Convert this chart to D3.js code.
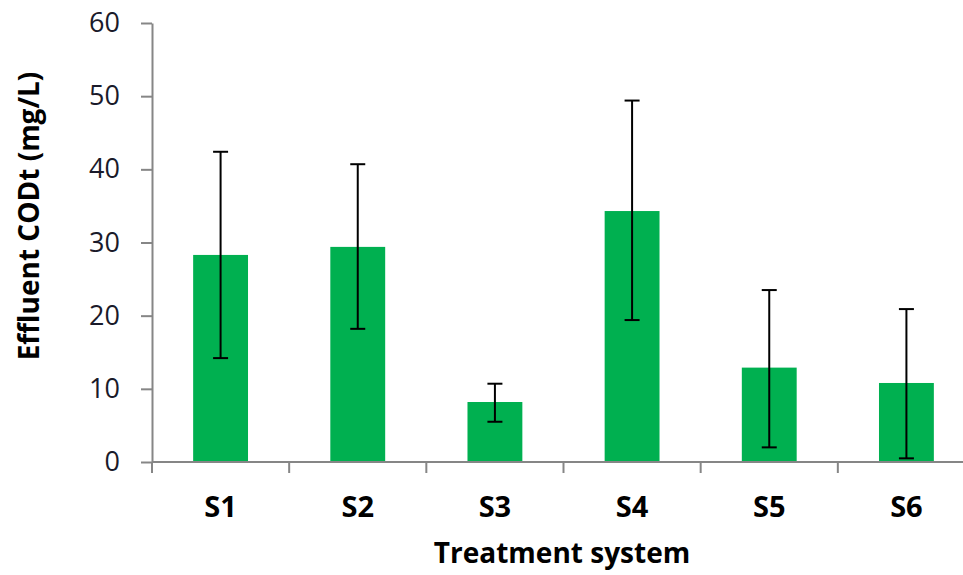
<!DOCTYPE html>
<html lang="en">
<head>
    <meta charset="UTF-8">
    <title>Effluent CODt</title>
    <script src="https://d3js.org/d3.v7.min.js"></script>
    <style>
        body { margin: 0; background: #fff; }
        .tick text { font-family: "Open Sans", sans-serif; fill: #1a1a2a; }
        .axis path, .axis line { stroke: #868686; stroke-width: 2px; }
        .bar { fill: #00b050; }
        .err { stroke: #000; stroke-width: 2px; fill: none; }
        .title { font-family: "Open Sans", sans-serif; font-weight: bold; fill: #000; }
    </style>
</head>
<body>
    <svg id="chart" width="963" height="575"></svg>
    <script>
        const systems = ["S1", "S2", "S3", "S4", "S5", "S6"];
        const means   = [28.3, 29.4, 8.2, 34.3, 12.9, 10.8];
        const upper   = [42.4, 40.7, 10.7, 49.4, 23.5, 20.9];
        const lower   = [14.2, 18.2, 5.5, 19.4, 2.0, 0.5];
        const yTicks  = [0, 10, 20, 30, 40, 50, 60];

        const svg = d3.select("#chart");
        const plotL = 152, plotR = 975, plotT = 23, plotB = 462;

        const x = d3.scaleBand()
            .domain(systems)
            .range([plotL, plotR])
            .paddingInner(0.6)
            .paddingOuter(0.3);

        const y = d3.scaleLinear().domain([0, 60]).range([plotB, plotT]);

        // y axis
        const yAxis = svg.append("g")
            .attr("class", "axis")
            .attr("transform", `translate(${plotL},0)`)
            .call(d3.axisLeft(y).tickValues(yTicks).tickSize(11).tickPadding(21).tickSizeOuter(0));
        yAxis.selectAll(".tick text").style("font-size", "27px");

        // bars
        const data = systems.map((s, i) => ({ s, m: means[i], hi: upper[i], lo: lower[i] }));
        svg.selectAll(".bar")
            .data(data)
            .enter()
            .append("rect")
            .attr("class", "bar")
            .attr("x", d => x(d.s))
            .attr("width", x.bandwidth())
            .attr("y", d => y(d.m))
            .attr("height", d => y(0) - y(d.m));

        // x axis (ticks between categories)
        const step = x.step();
        const bounds = d3.range(systems.length + 1).map(i => plotL + i * step);
        const xg = svg.append("g").attr("class", "axis");
        xg.append("line")
            .attr("x1", plotL).attr("x2", plotR)
            .attr("y1", plotB).attr("y2", plotB);
        xg.selectAll(".xt")
            .data(bounds)
            .enter()
            .append("line")
            .attr("x1", d => d).attr("x2", d => d)
            .attr("y1", plotB).attr("y2", plotB + 11);
        xg.selectAll(".xl")
            .data(systems)
            .enter()
            .append("text")
            .attr("class", "title")
            .attr("x", d => x(d) + x.bandwidth() / 2)
            .attr("y", 517)
            .attr("text-anchor", "middle")
            .style("font-size", "29px")
            .text(d => d);

        // error bars
        const cap = 7.5;
        const eg = svg.selectAll(".errg")
            .data(data)
            .enter()
            .append("g")
            .attr("transform", d => `translate(${x(d.s) + x.bandwidth() / 2},0)`);
        eg.append("line").attr("class", "err")
            .attr("y1", d => y(d.hi)).attr("y2", d => y(d.lo));
        eg.append("line").attr("class", "err")
            .attr("x1", -cap).attr("x2", cap)
            .attr("y1", d => y(d.hi)).attr("y2", d => y(d.hi));
        eg.append("line").attr("class", "err")
            .attr("x1", -cap).attr("x2", cap)
            .attr("y1", d => y(d.lo)).attr("y2", d => y(d.lo));

        // titles
        svg.append("text")
            .attr("class", "title")
            .attr("transform", "translate(39,216) rotate(-90)")
            .attr("text-anchor", "middle")
            .style("font-size", "28px")
            .text("Effluent CODt (mg/L)");

        svg.append("text")
            .attr("class", "title")
            .attr("x", 562)
            .attr("y", 563)
            .attr("text-anchor", "middle")
            .style("font-size", "28px")
            .text("Treatment system");
    </script>
</body>
</html>
